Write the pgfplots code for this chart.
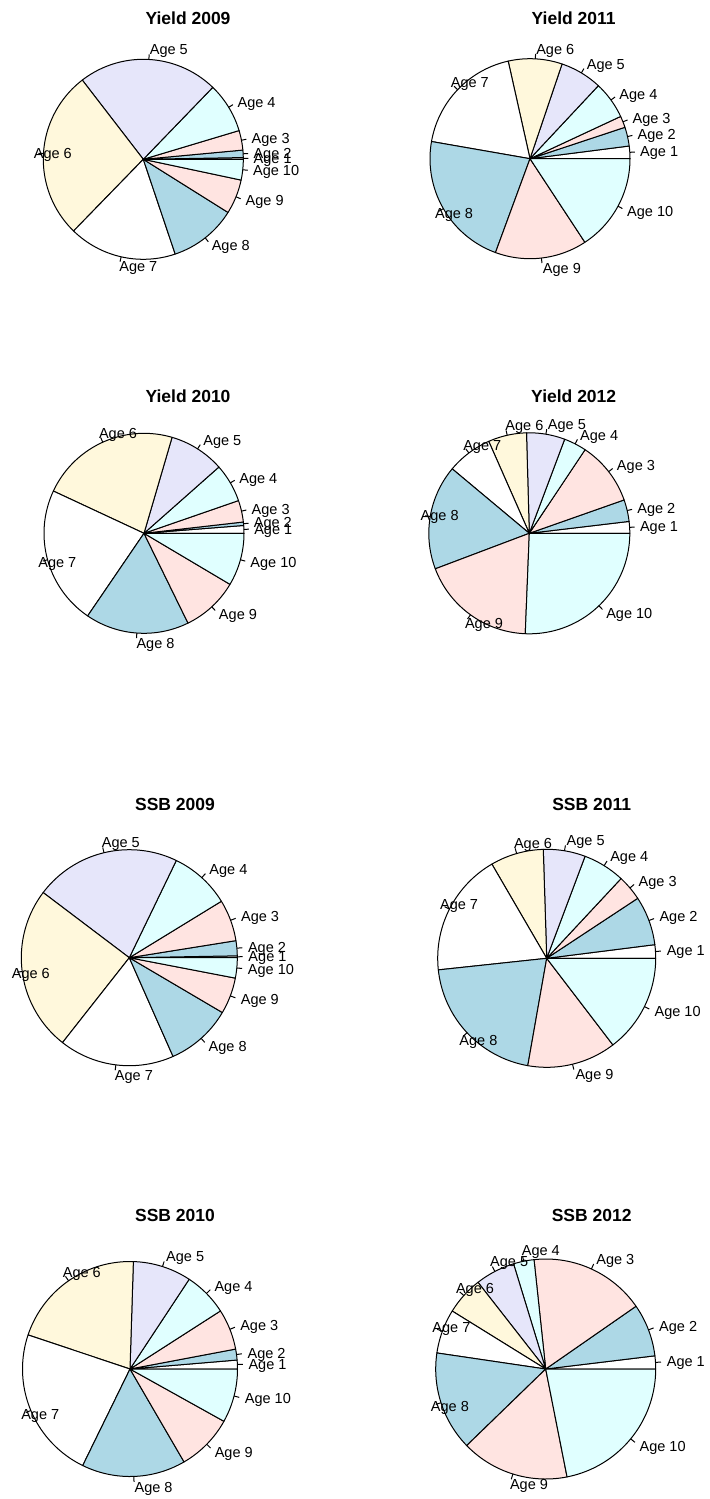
\documentclass[border=0pt]{standalone}
\usepackage{pgfplots}
\pgfplotsset{compat=1.18}
\usepackage{fontspec}
\setmainfont{Liberation Sans}
\definecolor{c1}{HTML}{FFFFFF}
\definecolor{c2}{HTML}{ADD8E6}
\definecolor{c3}{HTML}{FFE4E1}
\definecolor{c4}{HTML}{E0FFFF}
\definecolor{c5}{HTML}{E6E6FA}
\definecolor{c6}{HTML}{FFF8DC}
\definecolor{c7}{HTML}{FFFFFF}
\definecolor{c8}{HTML}{ADD8E6}
\definecolor{c9}{HTML}{FFE4E1}
\definecolor{c10}{HTML}{E0FFFF}
\newcommand\lbl{\fontsize{7.26}{8}\selectfont}
\newcommand\ttl{\bfseries\fontsize{8.75}{10}\selectfont}

% slice sizes in degrees, Age 1 ... Age 10
\def\dYnine{1,4.3,11.4,29.3,81.6,98.2,62.8,39.3,20.1,12}
\def\dYeleven{7.3,11,6.7,21.9,24.4,31.3,67.5,79.7,53.5,56.7}
\def\dYten{4.5,2,12.6,22.4,32.2,81.3,80.7,60.4,33.2,30.7}
\def\dYtwelve{6.8,12.6,36.9,13.1,22.2,22.2,26.3,60.6,67,92.3}
\def\dSnine{1,8.1,22.4,32.7,78.7,88.9,62.1,35.6,19.6,10.9}
\def\dSeleven{7.2,26.2,13.6,22.4,22.4,28.4,65.9,73.9,47.4,52.6}
\def\dSten{4.8,5.9,22,23.9,31.6,73.3,82.4,56.3,30.7,29.1}
\def\dStwelve{6.9,27.9,61.3,10.9,21,20.2,23.4,52.5,57.1,78.8}

\newcommand\pie[4]{%
  \gdef\cum{0}%
  \foreach \v [count=\i] in #1 {%
    \pgfmathsetmacro\e{\cum+\v}%
    \pgfmathsetmacro\m{(\cum+\e)/2}%
    \pgfmathtruncatemacro\ns{max(3,\v/2+2)}%
    \pgfmathsetmacro\ax{#2+#4*cos(\m)}%
    \pgfmathsetmacro\ay{#3-#4*sin(\m)}%
    \pgfmathsetmacro\bx{#2+1.05*#4*cos(\m)}%
    \pgfmathsetmacro\by{#3-1.05*#4*sin(\m)}%
    \pgfmathsetmacro\lx{#2+1.1*#4*cos(\m)}%
    \pgfmathsetmacro\ly{#3-1.1*#4*sin(\m)}%
    \edef\temp{%
      \noexpand\addplot[draw=black, line width=0.5pt, fill=c\i, domain=\cum:\e, samples=\ns, line join=round]
        ({#2+#4*cos(x)}, {#3-#4*sin(x)}) -- (axis cs:#2,#3) -- cycle;
      \noexpand\addplot[black, line width=0.5pt] coordinates {(\ax,\ay) (\bx,\by)};
      \noexpand\node[anchor=base west, yshift=-2.6pt, inner sep=0pt, font=\noexpand\lbl] at (axis cs:\lx,\ly) {Age \i};
    }%
    \temp
    \xdef\cum{\e}%
  }%
}

\begin{document}
\begin{tikzpicture}
\begin{axis}[
  width=354.5pt, height=749.5pt, scale only axis,
  xmin=0, xmax=709, ymin=0, ymax=1499, y dir=reverse,
  hide axis, clip=false,
]
\path (rel axis cs:0,0) rectangle (rel axis cs:1,1);
\pie{\dYnine}{143.3}{159.3}{100}
\pie{\dYeleven}{530}{158.7}{100}
\pie{\dYten}{144}{533.3}{100}
\pie{\dYtwelve}{529.3}{533.3}{100.5}
\pie{\dSnine}{129.3}{957.7}{108}
\pie{\dSeleven}{546.7}{958.3}{109}
\pie{\dSten}{130}{1369}{107.5}
\pie{\dStwelve}{545.7}{1369}{110}
\node[anchor=base, font=\ttl] at (axis cs:188,25) {Yield 2009};
\node[anchor=base, font=\ttl] at (axis cs:573.7,25) {Yield 2011};
\node[anchor=base, font=\ttl] at (axis cs:188,402) {Yield 2010};
\node[anchor=base, font=\ttl] at (axis cs:573.7,402) {Yield 2012};
\node[anchor=base, font=\ttl] at (axis cs:175,810.7) {SSB 2009};
\node[anchor=base, font=\ttl] at (axis cs:591.7,810.7) {SSB 2011};
\node[anchor=base, font=\ttl] at (axis cs:175,1221.7) {SSB 2010};
\node[anchor=base, font=\ttl] at (axis cs:591.7,1221.7) {SSB 2012};
\end{axis}
\end{tikzpicture}
\end{document}
